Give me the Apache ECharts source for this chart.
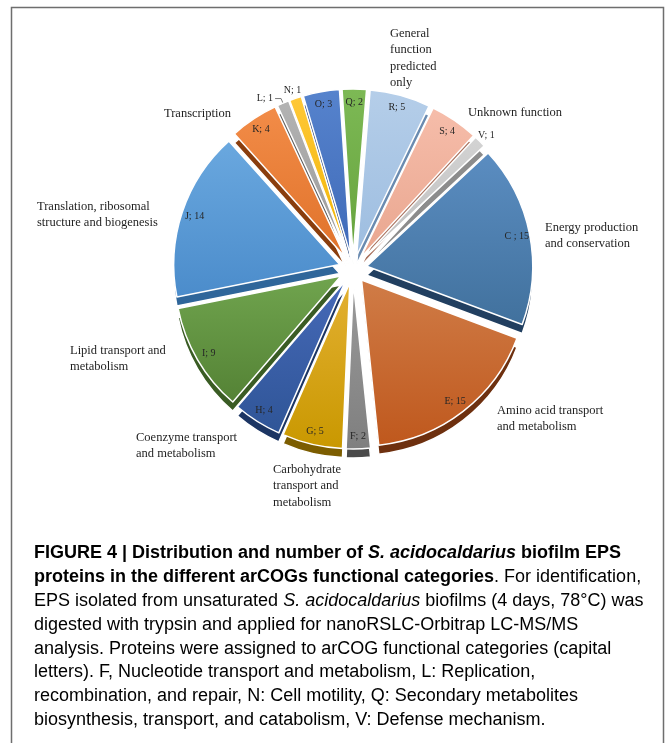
<!DOCTYPE html>
<html>
<head>
<meta charset="utf-8">
<title>arCOG functional categories of S. acidocaldarius biofilm EPS proteins</title>
<script src="https://cdn.jsdelivr.net/npm/echarts@6/dist/echarts.min.js"></script>
<style>
  html, body { margin: 0; padding: 0; background: #ffffff; }
  #chart { width: 667px; height: 743px; }
</style>
</head>
<body>
<div id="chart"></div>
<script>
// arCOG category codes and number of EPS proteins in each
const codes  = ['C', 'E', 'F', 'G', 'H', 'I', 'J', 'K', 'L', 'N', 'O', 'Q', 'R', 'S', 'V'];
const counts = [15, 15, 2, 5, 4, 9, 14, 4, 1, 1, 3, 2, 5, 4, 1];

// Category descriptions written beside the pie
const categoryNotes = [
  'General\nfunction\npredicted\nonly',
  'Unknown function',
  'Energy production\nand conservation',
  'Amino acid transport\nand metabolism',
  'Carbohydrate\ntransport and\nmetabolism',
  'Coenzyme transport\nand metabolism',
  'Lipid transport and\nmetabolism',
  'Translation, ribosomal\nstructure and biogenesis',
  'Transcription'
];

// Figure caption, one entry per printed line: [style, text] segments
const captionLines = [
  [['b', 'FIGURE 4 | Distribution and number of '], ['bi', 'S. acidocaldarius'], ['b', ' biofilm EPS']],
  [['b', 'proteins in the different arCOGs functional categories'], ['r', '. For identification,']],
  [['r', 'EPS isolated from unsaturated '], ['i', 'S. acidocaldarius'], ['r', ' biofilms (4 days, 78°C) was']],
  [['r', 'digested with trypsin and applied for nanoRSLC-Orbitrap LC-MS/MS']],
  [['r', 'analysis. Proteins were assigned to arCOG functional categories (capital']],
  [['r', 'letters). F, Nucleotide transport and metabolism, L: Replication,']],
  [['r', 'recombination, and repair, N: Cell motility, Q: Secondary metabolites']],
  [['r', 'biosynthesis, transport, and catabolism, V: Defense mechanism.']]
];

// ---- styling ----
const faceTop = ['#5b8dc1', '#d07c47', '#9a9a9a', '#e3b032', '#4669b8', '#70a44e', '#6aa8df', '#f28c48', '#b3b3b3', '#ffc838', '#5683cd', '#7db955', '#b5cee9', '#f6bdaa', '#d3d3d3'];
const faceBottom = ['#41719d', '#bf581d', '#7f7f7f', '#c99800', '#2f5597', '#548235', '#4b8ccb', '#e0722a', '#999999', '#f0b400', '#3f6ab8', '#66a33d', '#9dbde0', '#e9a68f', '#bdbdbd'];
const sideColors = ['#213f60', '#6e300f', '#4a4a4a', '#7c5d00', '#1c3563', '#3a5c24', '#2f669a', '#8a3e0e', '#5c5c5c', '#8a6a00', '#203f78', '#3e6a22', '#6a8bb0', '#a8705c', '#8c8c8c'];

const START_ANGLE = 43;      // degrees, ECharts convention (90 = 12 o'clock)
const CENTER = [353, 269];
const RADIUS = 166;
const EXPLODE = 14;
const DEPTH = 9;
const leaderSlices = ['L'];        // label outside with a leader line
const rimSlices = ['N', 'V'];      // label just beyond the rim, no line

const serif = 'Liberation Serif';
const sans = 'Liberation Sans';

function shade(top, bottom) {
  return new echarts.graphic.LinearGradient(0, 0, 0, 1, [
    { offset: 0, color: top },
    { offset: 1, color: bottom }
  ]);
}

const sideData = codes.map((c, i) => ({
  name: c, value: counts[i], selected: true,
  itemStyle: { color: sideColors[i] }
}));

const faceData = codes.map((c, i) => ({
  name: c, value: counts[i], selected: true,
  itemStyle: { color: shade(faceTop[i], faceBottom[i]) }
}));

const labelFormatter = p => p.name + (p.name === 'C' ? ' ; ' : '; ') + p.value;

// labels inside the rim of the wider slices, and the leader-line label
const innerLabelData = codes.map((c, i) => {
  const lead = leaderSlices.includes(c);
  const hide = rimSlices.includes(c);
  return {
    name: c, value: counts[i], selected: true,
    label: { show: !hide, position: lead ? 'outside' : 'inside' },
    labelLine: lead ? { show: true, length: 5, length2: 6 } : { show: false }
  };
});

// labels placed in a ring just outside the pie
const rimLabelData = codes.map((c, i) => ({
  name: c, value: counts[i], selected: true,
  label: { show: rimSlices.includes(c), position: 'inside' }
}));

const pieBase = {
  type: 'pie',
  silent: true,
  clockwise: true,
  startAngle: START_ANGLE,
  selectedMode: 'multiple',
  selectedOffset: EXPLODE,
  avoidLabelOverlap: false,
  emphasis: { disabled: true },
  animation: false
};

const labelStyle = {
  formatter: labelFormatter,
  fontFamily: serif,
  fontSize: 10,
  color: '#262626',
  distanceToLabelLine: 2
};

const series = [
  // side walls of the slices, seen below the top faces
  Object.assign({}, pieBase, {
    center: [CENTER[0], CENTER[1] + DEPTH],
    radius: [0, RADIUS],
    itemStyle: { borderColor: '#ffffff', borderWidth: 1.5 },
    select: { itemStyle: { borderColor: '#ffffff', borderWidth: 1.5 } },
    label: { show: false },
    labelLine: { show: false },
    data: sideData
  }),
  // top faces
  Object.assign({}, pieBase, {
    center: CENTER,
    radius: [0, RADIUS],
    itemStyle: { borderColor: '#ffffff', borderWidth: 1.5 },
    select: { itemStyle: { borderColor: '#ffffff', borderWidth: 1.5 } },
    label: { show: false },
    labelLine: { show: false },
    data: faceData
  }),
  // "code; count" labels near the rim of every slice
  Object.assign({}, pieBase, {
    center: CENTER,
    radius: [RADIUS - 32, RADIUS],
    itemStyle: { color: 'rgba(0,0,0,0)' },
    select: { itemStyle: { color: 'rgba(0,0,0,0)' } },
    label: Object.assign({ show: true }, labelStyle),
    labelLine: { lineStyle: { color: '#595959', width: 0.8 } },
    data: innerLabelData
  }),
  // labels of the thinnest slices, just beyond the rim
  Object.assign({}, pieBase, {
    center: CENTER,
    radius: [RADIUS - 6, RADIUS + 18],
    itemStyle: { color: 'rgba(0,0,0,0)' },
    select: { itemStyle: { color: 'rgba(0,0,0,0)' } },
    label: Object.assign({ show: true }, labelStyle),
    labelLine: { show: false },
    data: rimLabelData
  })
];

// Placement of the category descriptions (left, top)
const notePlaces = [
  [390, 25], [468, 104], [545, 219], [497, 402], [273, 461],
  [136, 429], [70, 342], [37, 198], [164, 105]
];

const graphics = [
  {
    type: 'rect', silent: true, z: 0,
    shape: { x: 11.5, y: 7.5, width: 652, height: 800 },
    style: { fill: 'none', stroke: '#6e6e6e', lineWidth: 1.5 }
  }
];

categoryNotes.forEach((t, i) => {
  graphics.push({
    type: 'text', silent: true, z: 10,
    left: notePlaces[i][0], top: notePlaces[i][1],
    style: {
      text: t, fontFamily: serif, fontSize: 12.5, lineHeight: 16.5,
      fill: '#1e1e1e', textAlign: 'left'
    }
  });
});

const CAPTION_SIZE = 18;
const captionRich = {
  b:  { fontFamily: sans, fontSize: CAPTION_SIZE, fontWeight: 'bold', color: '#111111' },
  bi: { fontFamily: sans, fontSize: CAPTION_SIZE, fontWeight: 'bold', fontStyle: 'italic', color: '#111111' },
  r:  { fontFamily: sans, fontSize: CAPTION_SIZE, color: '#262626' },
  i:  { fontFamily: sans, fontSize: CAPTION_SIZE, fontStyle: 'italic', color: '#262626' }
};

captionLines.forEach((segs, i) => {
  graphics.push({
    type: 'text', silent: true, z: 10,
    x: 34, y: 553 + i * 23.9,
    style: {
      text: segs.map(s => '{' + s[0] + '|' + s[1] + '}').join(''),
      rich: captionRich,
      verticalAlign: 'middle',
      textAlign: 'left'
    }
  });
});

const chart = echarts.init(document.getElementById('chart'), null, { renderer: 'canvas' });
chart.setOption({
  backgroundColor: '#ffffff',
  animation: false,
  series: series,
  graphic: graphics
});
</script>
</body>
</html>
